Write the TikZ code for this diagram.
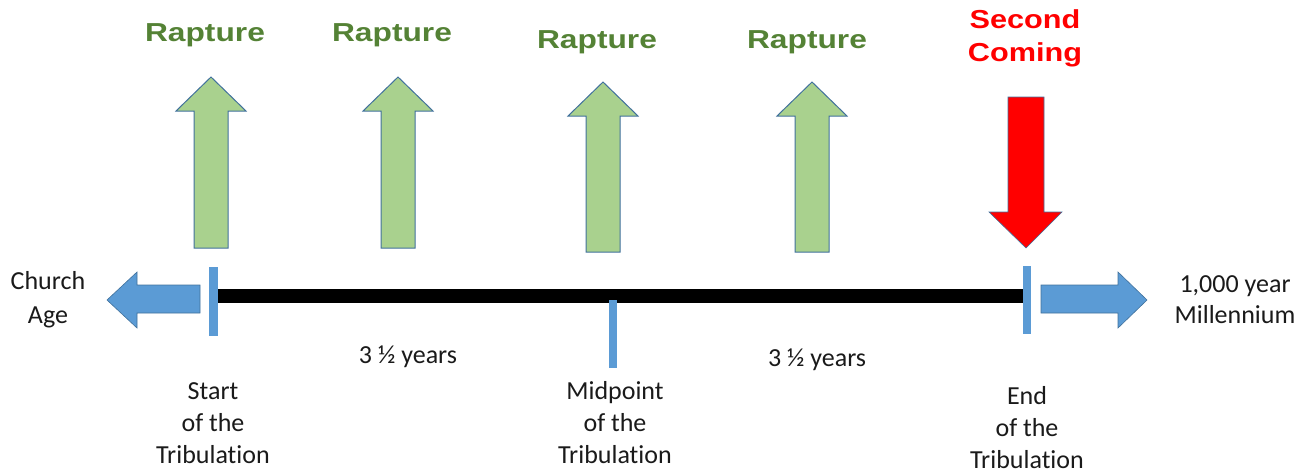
\documentclass[tikz,border=0pt]{standalone}
\usepackage{fontspec}
\setmainfont{Carlito}[Ligatures=CommonOff]
\newfontfamily\boldhead{Liberation Sans}
\usepackage{graphicx}
\definecolor{greenfill}{HTML}{A9D18E}
\definecolor{greentext}{HTML}{548235}
\definecolor{edgeblue}{HTML}{41719C}
\definecolor{tickblue}{HTML}{5B9BD5}
\definecolor{textgray}{HTML}{1A1A1A}
\tikzset{
  uparrow/.style={fill=greenfill, draw=edgeblue, line width=1pt, line join=miter},
  bluearrow/.style={fill=tickblue, draw=edgeblue, line width=0.6pt},
  tickbar/.style={fill=tickblue, draw=none},
  rapturelbl/.style={text=greentext, font=\boldhead\bfseries\fontsize{26}{30}\selectfont, inner sep=0pt},
  secondlbl/.style={text=red, font=\boldhead\bfseries\fontsize{26}{33}\selectfont, inner sep=0pt, align=center},
  bodylbl/.style={text=textgray, font=\fontsize{26}{32}\selectfont, inner sep=0pt, align=center},
}
\begin{document}
\begin{tikzpicture}[x=1pt,y=-1pt]
\useasboundingbox (0,0) rectangle (1305,475);
% green rapture arrows
\foreach \cx/\tip/\base/\bot [count=\i] in {211/77/111/248, 398/77/111/248, 603/82/116/252, 812/82/116/252}{
  \draw[uparrow] (\cx-17,\bot) -- (\cx-17,\base) -- (\cx-35,\base) -- (\cx,\tip) -- (\cx+35,\base) -- (\cx+17,\base) -- (\cx+17,\bot) -- cycle;
}
\node[rapturelbl] (r1) at (205,35) {\scalebox{1.22}[1]{Rapture}};
\node[rapturelbl] (r2) at (392,35) {\scalebox{1.22}[1]{Rapture}};
\node[rapturelbl] (r3) at (597,42) {\scalebox{1.22}[1]{Rapture}};
\node[rapturelbl] (r4) at (807,42) {\scalebox{1.22}[1]{Rapture}};
% red second coming arrow
\draw[fill=red, draw=edgeblue, line width=0.6pt] (1008,97) -- (1044,97) -- (1044,212) -- (1062,212) -- (1026,248) -- (989,212) -- (1008,212) -- cycle;
\node[secondlbl] (sc) at (1025,38) {\scalebox{1.18}[1]{Second}\\\scalebox{1.18}[1]{Coming}};
% black timeline
\fill[black] (218,289) rectangle (1023,303);
% ticks
\fill[tickbar] (209,267) rectangle (218,336);
\fill[tickbar] (609,300) rectangle (617,368);
\fill[tickbar] (1023,266) rectangle (1031,334);
% blue side arrows
\draw[bluearrow] (200,285) -- (137,285) -- (137,272) -- (107,300) -- (137,328) -- (137,313) -- (200,313) -- cycle;
\draw[bluearrow] (1041,285) -- (1118,285) -- (1118,272) -- (1147,300) -- (1118,328) -- (1118,313) -- (1041,313) -- cycle;
% labels
\node[bodylbl, font=\fontsize{26}{34}\selectfont] (church) at (48,300) {Church\\Age};
\node[bodylbl, font=\fontsize{26}{31}\selectfont] (mill) at (1235,300) {1,000 year\\Millennium};
\node[bodylbl] (y1) at (408,357) {3 ½ years};
\node[bodylbl] (y2) at (817,360) {3 ½ years};
\node[bodylbl] (start) at (213,423) {Start\\of the\\Tribulation};
\node[bodylbl] (mid) at (615,423) {Midpoint\\of the\\Tribulation};
\node[bodylbl] (end) at (1027,428) {End\\of the\\Tribulation};
\end{tikzpicture}
\end{document}
